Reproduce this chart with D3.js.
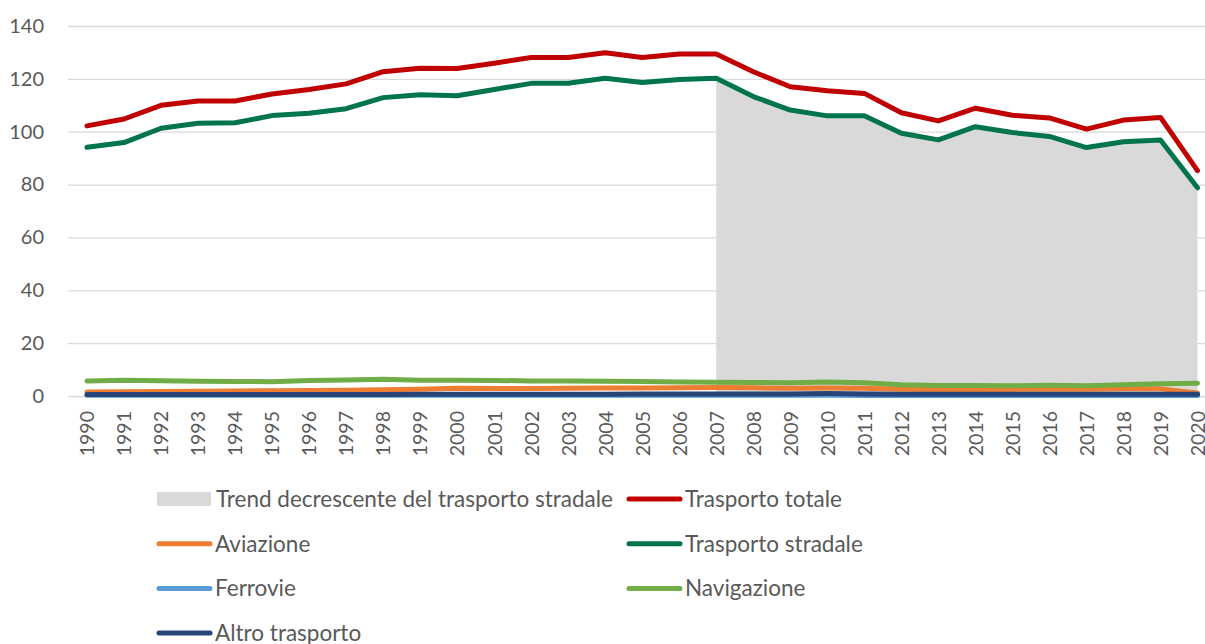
<!DOCTYPE html>
<html>
<head>
<meta charset="utf-8">
<script src="https://cdn.jsdelivr.net/npm/d3@7"></script>
<style>
  body { margin: 0; background: #fff; }
  text { font-family: Lato, "Liberation Sans", sans-serif; fill: #595959; }
</style>
</head>
<body>
<div id="chart"></div>
<script>
// years on the category axis
var years = d3.range(1990, 2021);

// series values
var trasportoTotale = [102.2, 104.8, 110.0, 111.6, 111.6, 114.3, 116.0, 118.1, 122.7, 124.0,
  123.9, 125.9, 128.1, 128.1, 129.9, 128.1, 129.4, 129.4, 122.7, 117.0,
  115.5, 114.5, 107.2, 104.1, 108.9, 106.2, 105.2, 101.0, 104.4, 105.4, 85.3];
var trasportoStradale = [94.1, 95.9, 101.3, 103.2, 103.4, 106.1, 107.0, 108.7, 112.9, 114.0,
  113.6, 116.0, 118.3, 118.3, 120.2, 118.6, 119.8, 120.2, 113.3, 108.2,
  106.0, 106.0, 99.4, 96.9, 101.9, 99.7, 98.2, 94.0, 96.2, 96.9, 78.8];
var aviazione = [1.5, 1.6, 1.7, 1.8, 1.9, 2.0, 2.1, 2.2, 2.4, 2.6,
  2.9, 2.8, 2.8, 2.9, 3.0, 3.0, 3.1, 3.2, 3.1, 2.9,
  3.0, 2.9, 2.6, 2.5, 2.5, 2.5, 2.6, 2.6, 2.7, 2.7, 1.1];
var ferrovie = [0.3, 0.3, 0.3, 0.3, 0.3, 0.3, 0.3, 0.3, 0.3, 0.3,
  0.3, 0.3, 0.3, 0.3, 0.3, 0.3, 0.3, 0.3, 0.3, 0.3,
  0.3, 0.2, 0.2, 0.2, 0.2, 0.2, 0.2, 0.2, 0.2, 0.2, 0.2];
var navigazione = [5.7, 6.0, 5.8, 5.6, 5.5, 5.4, 5.9, 6.1, 6.3, 6.0,
  6.0, 5.9, 5.7, 5.7, 5.6, 5.5, 5.3, 5.2, 5.1, 5.0,
  5.3, 5.0, 4.3, 4.0, 4.0, 3.9, 4.1, 3.9, 4.3, 4.6, 4.8];
var altroTrasporto = [0.6, 0.6, 0.6, 0.6, 0.6, 0.6, 0.6, 0.6, 0.6, 0.7,
  0.7, 0.7, 0.7, 0.7, 0.7, 0.8, 0.8, 0.8, 0.8, 0.8,
  0.9, 0.8, 0.7, 0.7, 0.7, 0.7, 0.7, 0.7, 0.7, 0.7, 0.7];
// grey area: road transport from 2007 onwards
var trendDecrescente = [null, null, null, null, null, null, null, null, null, null,
  null, null, null, null, null, null, null, 120.2, 113.3, 108.2,
  106.0, 106.0, 99.4, 96.9, 101.9, 99.7, 98.2, 94.0, 96.2, 96.9, 78.8];

var yTicks = [0, 20, 40, 60, 80, 100, 120, 140];

var svgWidth = 1205;
var svgHeight = 644;

var svg = d3.select("#chart")
  .append("svg")
    .attr("width", svgWidth)
    .attr("height", svgHeight);

var x = d3.scalePoint()
  .domain(years)
  .range([87, 1197.5]);

var y = d3.scaleLinear()
  .domain([0, 140])
  .range([396, 26]);

// gridlines + y labels
var leftAxis = d3.axisLeft(y)
  .tickValues(yTicks)
  .tickSize(-(svgWidth - 68))
  .tickPadding(24);

var yAxisG = svg.append("g")
  .attr("transform", "translate(68,0)")
  .call(leftAxis);
yAxisG.select(".domain").remove();
yAxisG.selectAll("line").attr("stroke", "#d9d9d9").attr("stroke-width", 1.3);
yAxisG.selectAll("text")
  .attr("font-size", "20px")
  .attr("fill", "#595959")
  .attr("font-family", "Lato, 'Liberation Sans', sans-serif");

// grey trend area
var area = d3.area()
  .defined(d => d.v != null)
  .x(d => x(d.year))
  .y0(y(0))
  .y1(d => y(d.v));

svg.append("path")
  .datum(years.map((yr, i) => ({year: yr, v: trendDecrescente[i]})))
  .attr("d", area)
  .attr("fill", "#d9d9d9");

// x axis labels (rotated)
var bottomAxis = d3.axisBottom(x).tickSize(0);
var xAxisG = svg.append("g")
  .attr("transform", `translate(0, ${y(0)})`)
  .call(bottomAxis);
xAxisG.select(".domain").remove();
xAxisG.selectAll("text")
  .attr("transform", "rotate(-90)")
  .attr("x", -15)
  .attr("y", 0)
  .attr("dy", "0.35em")
  .style("text-anchor", "end")
  .attr("font-size", "19.5px")
  .attr("fill", "#595959")
  .attr("font-family", "Lato, 'Liberation Sans', sans-serif");

// lines, drawn in legend order
var seriesList = [
  {name: "Trasporto totale", values: trasportoTotale, color: "#c00000"},
  {name: "Aviazione", values: aviazione, color: "#ed7d31"},
  {name: "Trasporto stradale", values: trasportoStradale, color: "#00754b"},
  {name: "Ferrovie", values: ferrovie, color: "#5b9bd5"},
  {name: "Navigazione", values: navigazione, color: "#70ad47"},
  {name: "Altro trasporto", values: altroTrasporto, color: "#264478"}
];

var line = d3.line()
  .x((d, i) => x(years[i]))
  .y(d => y(d));

svg.selectAll(".series")
  .data(seriesList)
  .enter()
  .append("path")
    .attr("class", "series")
    .attr("d", d => line(d.values))
    .attr("fill", "none")
    .attr("stroke", d => d.color)
    .attr("stroke-width", 5)
    .attr("stroke-linejoin", "round")
    .attr("stroke-linecap", "round");

// legend
var legendItems = [{name: "Trend decrescente del trasporto stradale", color: "#d9d9d9", area: true}]
  .concat(seriesList);

var legend = svg.selectAll(".legend")
  .data(legendItems)
  .enter()
  .append("g")
    .attr("class", "legend")
    .attr("transform", (d, i) => `translate(${i % 2 == 0 ? 157 : 627}, ${499 + Math.floor(i / 2) * 44.7})`);

legend.filter(d => d.area)
  .append("rect")
    .attr("x", 0)
    .attr("y", -7)
    .attr("width", 54)
    .attr("height", 14)
    .attr("fill", d => d.color);

legend.filter(d => !d.area)
  .append("line")
    .attr("x1", 2)
    .attr("x2", 53)
    .attr("stroke", d => d.color)
    .attr("stroke-width", 5)
    .attr("stroke-linecap", "round");

legend.append("text")
  .attr("x", d => d.area ? 59 : 58)
  .attr("dy", "0.35em")
  .attr("font-size", "22.5px")
  .text(d => d.name);
</script>
</body>
</html>
